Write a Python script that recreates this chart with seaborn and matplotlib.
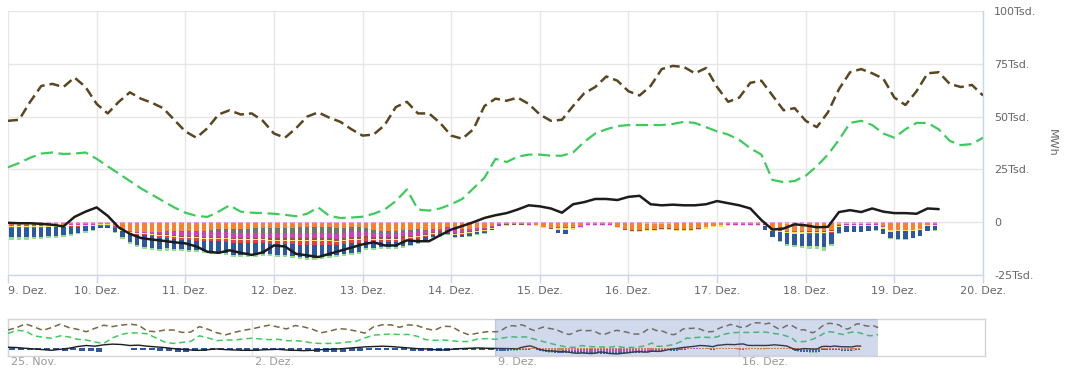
import numpy as np
import pandas as pd
import matplotlib
matplotlib.use("Agg")
import matplotlib.pyplot as plt
import matplotlib.dates as mdates
import matplotlib.transforms as mtrans
import seaborn as sns

# ---------------- data (Tsd. MWh) ----------------
# lines, 3-hourly starting 9. Dez 00:00
brown = [48, 48.5, 57, 64.5, 65.5, 64, 68.5, 64,
         56, 51.5, 57, 61.5, 58.5, 56.5, 54, 48.5,
         43, 40, 44.5, 51, 53, 51, 51.5, 48,
         42, 40, 44.5, 50, 52, 49.5, 47.5, 44,
         41, 41.5, 46, 54.5, 57, 51.5, 51.5, 47,
         41, 39.5, 44, 55, 58.5, 57.5, 59, 56,
         51, 48, 48.5, 55, 61, 64, 69, 67,
         62, 60, 64.5, 72.5, 74, 73.5, 70.5, 73,
         64, 57, 59, 66, 67, 60, 53, 54,
         48, 45, 52, 63, 71, 72.5, 70.5, 68,
         59, 55.5, 62, 70.5, 71, 65.5, 64, 65,
         60]
green = [26, 28, 30.5, 32.5, 33, 32.3, 32.5, 33,
         30, 26.5, 23, 19.5, 16, 13, 10, 7,
         4.5, 3, 2.5, 5, 8, 5, 4.5, 4.3,
         4, 3.5, 2.8, 4, 7, 3, 2, 2.2,
         2.6, 4, 6, 10, 15.5, 6, 5.5, 6.5,
         8.5, 11, 16, 21, 30, 28.5, 31, 32,
         32, 31.5, 31.5, 33, 38, 42, 44, 45.5,
         46, 46, 46, 46, 46.5, 47.5, 47, 45,
         43, 41.5, 39, 35, 32, 20, 19, 19.5,
         22, 26.5, 32, 39, 47, 48, 46, 42,
         40, 44, 47, 47, 44, 38.5, 36.5, 37,
         40]
black = [-0.3, -0.5, -0.5, -0.8, -1.2, -2, 2.5, 5,
         7, 3, -2.5, -5.5, -7.5, -8.2, -8.8, -9.5,
         -10, -11.5, -14, -14.5, -13.3, -14.5, -15.5, -14.3,
         -11, -11.5, -15, -15.7, -16.5, -15, -13.5, -12,
         -10.5, -9.5, -11, -11, -8.6, -9, -9, -6.2,
         -3.5, -1.8, 0, 2, 3.3, 4.3, 6, 8,
         7.5, 6.5, 4.5, 8.5, 9.5, 11, 11, 10.5,
         12, 12.5, 8.5, 8, 8.3, 8, 8, 8.5,
         10, 9, 8, 6.5, 1, -3.5, -3, -1,
         -1.5, -2.4, -2.2, 4.8, 5.7, 4.8, 6.5, 5,
         4.3, 4.3, 4, 6.5, 6.2]

# stacked bars (size below zero), 2-hourly starting 9. Dez 00:00, one row per day
pink = [0.6, 0.6, 0.6, 0.6, 0.6, 0.6, 0.6, 0.6, 0.5, 0.5, 0.5, 0.5,
        0.5, 0.5, 0.4, 0.3, 0.3, 0.2, 0.2, 0.2, 0.2, 0.2, 0.2, 0.2,
        0.2, 0.2, 0.2, 0.2, 0.2, 0.2, 0.2, 0.2, 0.2, 0.2, 0.2, 0.2,
        0.2, 0.2, 0.2, 0.2, 0.2, 0.2, 0.2, 0.2, 0.2, 0.2, 0.2, 0.2,
        0.2, 0.2, 0.2, 0.2, 0.2, 0.2, 0.3, 0.4, 0.5, 0.5, 0.5, 0.5,
        0.6, 0.6, 0.6, 0.6, 0.6, 0.5, 0.5, 0.5, 0.5, 0.5, 0.6, 0.6,
        0.6, 0.6, 0.5, 0.5, 0.5, 0.5, 0.5, 0.6, 0.6, 0.6, 0.6, 0.6,
        0.6, 0.6, 0.7, 0.7, 0.7, 0.7, 0.6, 0.6, 0.6, 0.6, 0.6, 0.6,
        0.6, 0.6, 0.6, 0.6, 0.6, 0.6, 0.5, 0.5, 0.5, 0.7, 0.8, 0.8,
        0.6, 0.6, 0.6, 0.6, 0.7, 0.7, 0.7, 0.7, 0.7, 0.6, 0.5, 0.5,
        0.5, 0.5, 0.5, 0.5, 0.6, 0.6]
orange = [0.8, 0.8, 0.8, 0.7, 0.7, 0.6, 0.6, 0.6, 0.5, 0.5, 0.4, 0.3,
          0.3, 0.3, 1.5, 3.0, 4.0, 4.5, 4.5, 4.5, 4.5, 4.2, 4.2, 4.0,
          4.0, 4.0, 3.8, 3.5, 3.2, 3.0, 3.0, 2.8, 2.8, 2.5, 2.5, 2.5,
          2.5, 2.5, 2.5, 2.0, 2.0, 2.0, 2.0, 2.0, 2.5, 2.5, 2.0, 2.0,
          2.5, 3.5, 4.0, 4.0, 4.0, 3.5, 3.5, 3.0, 3.0, 2.5, 2.5, 2.0,
          2.5, 2.5, 2.5, 2.0, 2.0, 1.5, 0.5, 0.3, 0.2, 0.2, 0.3, 0.5,
          1.5, 2.0, 2.0, 2.0, 2.0, 1.5, 0.5, 0.3, 0.3, 0.3, 1.5, 2.5,
          3.0, 3.0, 2.5, 2.5, 2.0, 2.0, 2.5, 2.5, 2.5, 2.0, 1.5, 1.0,
          0.5, 0.3, 0.3, 0.3, 0.3, 0.3, 0.3, 2.5, 3.0, 3.5, 3.5, 3.5,
          3.5, 3.5, 3.5, 3.0, 0.5, 0.3, 0.3, 0.3, 0.3, 0.3, 1.5, 3.0,
          3.0, 3.0, 3.0, 2.5, 0.5, 0.3]
gray = [0, 0, 0, 0, 0, 0, 0, 0, 0, 0, 0, 0,
        0, 0, 0, 0, 0, 0, 0, 0, 0, 0.2, 0.3, 0.5,
        0.3, 0.5, 0.8, 1.0, 1.2, 1.5, 1.8, 2.0, 2.0, 2.2, 2.3, 2.5,
        2.5, 2.5, 2.5, 2.8, 3.0, 3.0, 3.0, 3.0, 2.8, 2.5, 2.5, 2.5,
        2.0, 1.5, 1.0, 1.0, 1.0, 1.0, 0.8, 0.8, 0.6, 0.5, 0.4, 0.3,
        0.3, 0.3, 0.2, 0, 0, 0, 0, 0, 0, 0, 0, 0,
        0, 0, 0, 0, 0, 0, 0, 0, 0, 0, 0, 0,
        0, 0, 0, 0, 0, 0, 0, 0, 0, 0, 0, 0,
        0, 0, 0, 0, 0, 0, 0, 0, 0, 0, 0, 0,
        0, 0, 0, 0, 0, 0, 0, 0, 0, 0, 0, 0,
        0, 0, 0, 0, 0, 0]
magenta = [0.3, 0.3, 0.3, 0.3, 0.3, 0.3, 0.3, 0.3, 0.3, 0.3, 0.3, 0.3,
           0.2, 0.2, 0.2, 0.3, 0.3, 0.5, 0.5, 0.8, 1.0, 1.2, 1.5, 1.8,
           2.0, 2.0, 2.0, 2.2, 2.2, 2.2, 2.5, 2.5, 2.5, 2.5, 2.5, 2.5,
           2.5, 2.5, 2.5, 2.5, 2.5, 2.5, 2.5, 2.5, 2.5, 2.5, 2.5, 2.5,
           2.0, 2.0, 2.0, 2.0, 2.0, 2.0, 2.0, 1.8, 1.5, 1.2, 1.0, 1.0,
           1.5, 1.2, 1.0, 1.0, 0.8, 0.5, 0.3, 0.2, 0.2, 0.2, 0.2, 0.2,
           0.2, 0.2, 0.2, 0.2, 0.2, 0.2, 0.2, 0.2, 0.2, 0.2, 0.2, 0.2,
           0.2, 0.2, 0.2, 0.2, 0.2, 0.2, 0.2, 0.2, 0.2, 0.2, 0.2, 0.2,
           0.2, 0.2, 0.2, 0.2, 0.2, 0.2, 0.2, 0.3, 0.3, 0.3, 0.3, 0.3,
           0.3, 0.3, 0.3, 0.3, 0.2, 0.2, 0.2, 0.2, 0.2, 0.2, 0.2, 0.2,
           0.2, 0.2, 0.2, 0.2, 0.2, 0.2]
brownbar = [0, 0, 0, 0, 0, 0, 0, 0, 0, 0, 0, 0,
            0, 0, 0, 0, 0, 0, 0, 0, 0.3, 0.3, 0.3, 0.3,
            0.5, 0.5, 0.5, 0.5, 0.5, 0.5, 0.5, 0.5, 0.5, 0.5, 0.5, 0.5,
            0.8, 0.8, 0.8, 0.8, 0.8, 0.8, 0.8, 0.8, 0.8, 0.8, 0.8, 0.8,
            0.6, 0.6, 0.6, 0.6, 0.6, 0.6, 0.6, 0.6, 0.5, 0.5, 0.5, 0.5,
            0.5, 0.5, 0.5, 0.5, 0.4, 0.3, 0.3, 0.3, 0.2, 0.2, 0.2, 0.2,
            0.2, 0.2, 0.2, 0.2, 0.2, 0.2, 0.2, 0.2, 0.2, 0.2, 0.2, 0.2,
            0.2, 0.2, 0.2, 0.2, 0.2, 0.2, 0.2, 0.2, 0.2, 0.2, 0.2, 0.2,
            0.2, 0.2, 0.2, 0.2, 0.2, 0.2, 0.2, 0.2, 0.2, 0.2, 0.2, 0.2,
            0.2, 0.2, 0.2, 0.2, 0.2, 0.2, 0.2, 0.2, 0.2, 0.2, 0.2, 0.2,
            0.2, 0.2, 0.2, 0.2, 0.2, 0.2]
yellow = [0.8, 0.8, 0.8, 0.8, 0.8, 0.7, 0.7, 0.7, 0.6, 0.6, 0.5, 0.5,
          0.4, 0.4, 0.4, 0.4, 0.4, 0.4, 0.5, 0.5, 0.5, 0.5, 0.5, 0.5,
          0.5, 0.5, 0.5, 0.5, 0.5, 0.5, 0.5, 0.5, 0.5, 0.5, 0.5, 0.5,
          0.5, 0.5, 0.5, 0.5, 0.5, 0.5, 0.5, 0.5, 0.5, 0.5, 0.5, 0.5,
          0.4, 0.4, 0.4, 0.4, 0.4, 0.4, 0.4, 0.4, 0.4, 0.4, 0.4, 0.4,
          0.5, 0.5, 0.5, 0.5, 0.5, 0.4, 0.4, 0.4, 0.4, 0.4, 0.4, 0.4,
          0.4, 0.4, 0.6, 0.6, 0.6, 0.5, 0.5, 0.5, 0.4, 0.4, 0.4, 0.4,
          0.5, 0.5, 0.5, 0.5, 0.5, 0.5, 0.5, 0.5, 0.5, 0.5, 0.5, 0.5,
          0.6, 0.6, 0.6, 0.6, 0.6, 0.6, 0.6, 0.6, 0.6, 0.6, 0.6, 0.6,
          0.6, 0.6, 0.6, 0.6, 0.6, 0.6, 0.6, 0.6, 0.6, 0.6, 0.6, 0.6,
          0.5, 0.5, 0.5, 0.5, 0.5, 0.5]
red = [0.2, 0.2, 0.2, 0.2, 0.2, 0.2, 0.2, 0.2, 0.2, 0.2, 0.2, 0.2,
       0.2, 0.2, 0.2, 0.2, 0.3, 0.3, 0.5, 0.5, 0.8, 0.8, 1.0, 1.0,
       1.0, 1.0, 1.2, 1.2, 1.2, 1.5, 1.5, 1.5, 1.5, 1.5, 1.5, 1.5,
       1.5, 1.5, 1.5, 1.8, 2.0, 2.0, 2.0, 1.8, 1.5, 1.5, 1.5, 1.5,
       1.2, 1.2, 1.2, 1.0, 1.0, 1.0, 0.8, 0.8, 0.6, 0.5, 0.4, 0.3,
       0.3, 0.3, 0.3, 0.2, 0.2, 0.1, 0, 0, 0, 0, 0, 0,
       0, 0, 0, 0, 0, 0, 0, 0, 0, 0, 0, 0,
       0, 0, 0, 0, 0, 0, 0, 0, 0, 0, 0, 0,
       0, 0, 0, 0, 0, 0, 0, 0, 0, 0, 0.2, 0.2,
       0.2, 0.2, 0.2, 0.2, 0, 0, 0, 0, 0, 0, 0, 0,
       0, 0, 0, 0, 0, 0]
blue = [4.5, 4.5, 4.5, 4.2, 4.2, 4.0, 4.0, 3.8, 3.5, 3.0, 2.5, 2.0,
        1.0, 1.0, 2.0, 3.0, 4.0, 5.0, 5.5, 5.5, 5.5, 5.0, 4.5, 4.5,
        4.5, 4.5, 4.5, 5.0, 5.0, 5.0, 5.5, 5.5, 5.5, 5.5, 5.0, 5.0,
        5.0, 5.0, 5.5, 6.0, 6.0, 6.0, 5.5, 5.0, 4.5, 4.5, 4.5, 4.0,
        3.5, 3.0, 2.5, 2.5, 2.5, 2.5, 2.5, 2.0, 1.5, 1.0, 0.8, 0.6,
        1.0, 1.0, 1.0, 1.0, 0.8, 0.5, 0, 0, 0, 0, 0, 0,
        0, 0, 1.5, 2.0, 0, 0, 0, 0, 0, 0, 0, 0,
        0, 0, 0, 0, 0, 0, 0, 0, 0, 0, 0, 0,
        0, 0, 0, 0, 0, 0, 2.0, 3.0, 4.5, 5.0, 5.0, 5.5,
        6.0, 6.0, 6.5, 5.5, 3.0, 2.5, 2.5, 2.5, 2.0, 2.0, 2.5, 3.0,
        3.5, 3.5, 3.0, 2.5, 2.0, 2.0]
lgreen = [1.0, 1.0, 1.0, 1.0, 1.0, 0.9, 0.9, 0.8, 0.8, 0.6, 0.5, 0.3,
          0.3, 0.3, 0.5, 0.8, 1.0, 1.0, 1.0, 1.0, 1.0, 1.0, 1.0, 1.0,
          1.0, 1.0, 1.0, 1.0, 1.0, 1.0, 1.0, 1.0, 1.0, 1.0, 1.0, 1.0,
          1.0, 1.0, 1.0, 1.0, 1.0, 1.0, 1.0, 1.0, 1.0, 1.0, 1.0, 1.0,
          0.8, 0.8, 0.8, 0.8, 0.8, 0.8, 0.6, 0.6, 0.5, 0.4, 0.3, 0.3,
          0.3, 0.3, 0.3, 0.2, 0.2, 0.1, 0, 0, 0, 0, 0, 0,
          0, 0, 0, 0, 0, 0, 0, 0, 0, 0, 0, 0,
          0, 0, 0, 0, 0, 0, 0, 0, 0, 0, 0, 0,
          0, 0, 0, 0, 0, 0, 0, 0, 0.5, 0.8, 1.0, 1.0,
          1.5, 1.5, 1.5, 1.0, 0.3, 0.2, 0.2, 0.2, 0.2, 0.2, 0.3, 0.3,
          0.3, 0.3, 0.3, 0.2, 0.2, 0.2]

# navigator-only history, 6-hourly from 25. Nov 00:00 to 8. Dez 18:00
nav_brown = [53, 60, 71, 62, 52, 60, 70, 60, 55, 48, 58, 67, 63, 67,
             70, 67, 50, 48, 53, 53, 46, 47, 63, 55, 45, 39, 46, 52,
             56, 62, 67, 62, 56, 66, 62, 55, 45, 50, 57, 55, 50, 44,
             62, 68, 68, 61, 68, 66, 57, 52, 64, 63, 48, 39, 44, 48]
nav_green = [43, 52, 50, 36, 32, 29, 36, 33, 26, 24, 18, 14, 30, 40,
             45, 44, 42, 30, 18, 14, 17, 20, 36, 30, 22, 24, 24, 27,
             29, 27, 25, 26, 22, 22, 20, 15, 14, 14, 15, 18, 20, 30,
             38, 40, 41, 40, 40, 35, 25, 23, 24, 22, 19, 20, 27, 28]
nav_black = [3, 2, 0, -2, -4, -6, -3, 0, 5, 8, 6, 10, 12, 11,
             8, 9, 6, 4, 2, -1, -3, -5, -6, -4, -2, -4, -5, -6,
             -6, -5, -4, -3, -5, -6, -7, -6, -4, -3, -2, 0, 2, 4,
             5, 6, 5, 3, 1, -1, -2, -4, -5, -3, -1, 0, 1, 0]
nav_bars = [5, 5, 6, 6, 5, 6, 7, 6, 7, 9, 10, 0, 0, 0,
            4, 5, 6, 8, 9, 10, 10, 9, 8, 6, 5, 4, 5, 6,
            7, 6, 5, 6, 7, 8, 9, 10, 10, 11, 10, 9, 8, 6,
            5, 4, 5, 6, 7, 8, 9, 8, 7, 6, 6, 5, 5, 6]

y_ticks = [-25, 0, 25, 50, 75, 100]
y_labels = ["-25Tsd.", "0", "25Tsd.", "50Tsd.", "75Tsd.", "100Tsd."]
nav_ticks = ["2019-11-25", "2019-12-02", "2019-12-09", "2019-12-16"]
nav_labels = ["25. Nov.", "2. Dez.", "9. Dez.", "16. Dez."]

# ---------------- styling ----------------
sns.set_theme(style="white")
plt.rcParams["font.family"] = ["DejaVu Sans"]

C_BROWN = "#5a4722"
C_GREEN = "#3ecb5c"
C_BLACK = "#1c1c1c"
bar_styles = [(pink, "#eb9be2"), (orange, "#ff7f2a"), (gray, "#6c786c"),
              (magenta, "#d23fbd"), (brownbar, "#8c5a2e"), (yellow, "#f6e05a"),
              (red, "#ec3b3b"), (blue, "#2d579e"), (lgreen, "#8fdf8f")]

t_line = pd.date_range("2019-12-09", periods=len(brown), freq="3h")
t_black = pd.date_range("2019-12-09", periods=len(black), freq="3h")
t_bar = mdates.date2num(pd.date_range("2019-12-09 01:00", periods=len(blue), freq="2h"))
t_nav = pd.date_range("2019-11-25", periods=len(nav_brown), freq="6h")

fig = plt.figure(figsize=(10.8, 3.78), dpi=100)
ax = fig.add_axes([8 / 1080, 1 - 275 / 378, 975 / 1080, 264 / 378])
nav = fig.add_axes([8 / 1080, 1 - 356 / 378, 977 / 1080, 37 / 378])


def draw_bars(a, width):
    bottom = np.zeros(len(blue))
    for vals, col in bar_styles:
        v = np.array(vals, dtype=float)
        a.bar(t_bar, -v, bottom=bottom, width=width, color=col, linewidth=0, zorder=2)
        bottom -= v


# ---- main chart ----
draw_bars(ax, 0.05)
sns.lineplot(x=t_line, y=green, ax=ax, color=C_GREEN, lw=1.6,
             linestyle=(0, (5.5, 2.5)), errorbar=None, zorder=4)
sns.lineplot(x=t_line, y=brown, ax=ax, color=C_BROWN, lw=1.8,
             linestyle=(0, (4, 2)), errorbar=None, zorder=4)
sns.lineplot(x=t_black, y=black, ax=ax, color=C_BLACK, lw=1.8,
             errorbar=None, zorder=5)

start = pd.Timestamp("2019-12-09")
days = pd.date_range(start, periods=12, freq="D")
ax.set_xlim(mdates.date2num(start), mdates.date2num(days[-1]))
ax.set_xticks(mdates.date2num(days))
ax.set_xticklabels([f"{d.day}. Dez." for d in days])
ax.set_ylim(-25, 100)
ax.set_yticks(y_ticks)
ax.set_yticklabels(y_labels)
ax.yaxis.tick_right()
ax.set_xlabel("")
ax.set_ylabel("")
ax.grid(True, color="#e6e6e6", lw=1)
ax.set_axisbelow(True)
for s in ["top", "left"]:
    ax.spines[s].set_visible(False)
for s in ["right", "bottom"]:
    ax.spines[s].set_color("#ccd6eb")
    ax.spines[s].set_linewidth(1)
ax.tick_params(axis="y", length=0, pad=8, labelsize=8, labelcolor="#666666")
ax.tick_params(axis="x", bottom=True, length=6, width=1, color="#ccd6eb",
               pad=2, labelsize=8, labelcolor="#666666")
# first day label is pushed inside the plot like the original
ax.get_xticklabels()[0].set_horizontalalignment("left")
fig.text(1052 / 1080, 1 - 143 / 378, "MWh", rotation=270, ha="center",
         va="center", fontsize=8, color="#666666")

# ---- navigator ----
nav.bar(mdates.date2num(t_nav) + 0.125, -np.array(nav_bars, dtype=float),
        width=0.17, color="#2d579e", linewidth=0, zorder=2)
draw_bars(nav, 0.06)
sns.lineplot(x=list(t_nav) + list(t_line), y=nav_green + green, ax=nav,
             color=C_GREEN, lw=1.1, linestyle=(0, (4, 2.5)), errorbar=None, zorder=4)
sns.lineplot(x=list(t_nav) + list(t_line), y=nav_brown + brown, ax=nav,
             color="#7a6640", lw=1.1, linestyle=(0, (4, 2.5)), errorbar=None, zorder=4)
sns.lineplot(x=list(t_nav) + list(t_black), y=nav_black + black, ax=nav,
             color=C_BLACK, lw=1.0, errorbar=None, zorder=4)

nav_start = mdates.date2num(pd.Timestamp("2019-11-25"))
nav.set_xlim(nav_start, nav_start + 28.07)
nav.set_ylim(-22.5, 85)
nav.axvspan(mdates.date2num(start), mdates.date2num(days[-1]),
            color=(102 / 255, 133 / 255, 194 / 255), alpha=0.3, lw=0, zorder=6)
nav.set_xticks(mdates.date2num(pd.to_datetime(nav_ticks)))
nav.set_xticklabels(nav_labels)
nav.set_yticks([])
nav.set_xlabel("")
nav.set_ylabel("")
nav.grid(True, axis="x", color="#e6e6e6", lw=1)
nav.set_axisbelow(True)
for s in nav.spines.values():
    s.set_color("#d5d5d5")
    s.set_linewidth(1)
nav.tick_params(axis="x", length=0, pad=1, labelsize=8, labelcolor="#999999")
offset = mtrans.ScaledTranslation(3 / 100, 0, fig.dpi_scale_trans)
for lab in nav.get_xticklabels():
    lab.set_horizontalalignment("left")
    lab.set_transform(lab.get_transform() + offset)

fig.savefig("out.png", dpi=100, facecolor="white")
